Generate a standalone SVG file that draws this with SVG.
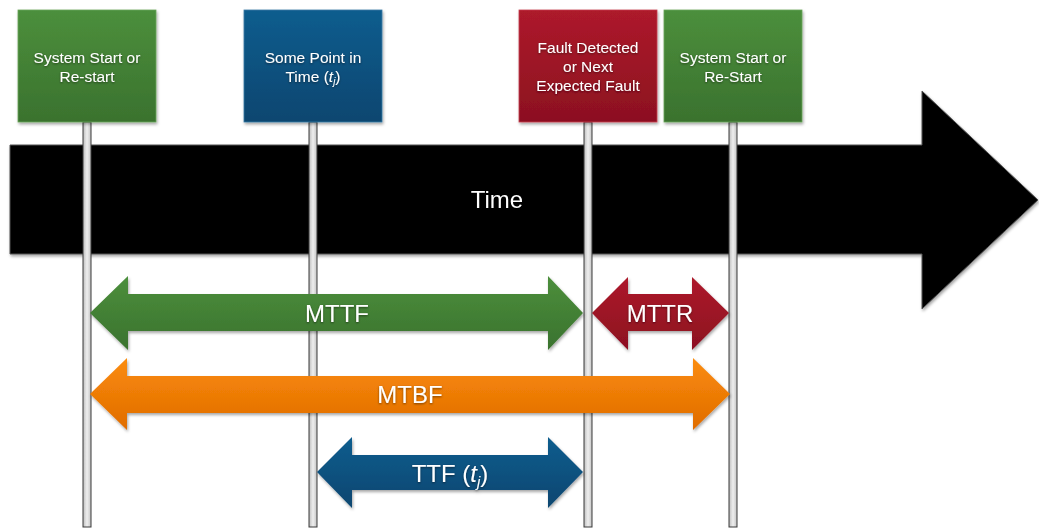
<svg xmlns="http://www.w3.org/2000/svg" width="1039" height="529" viewBox="0 0 1039 529">
<style>
  .lbl { font-family: "Liberation Sans", Arial, sans-serif; fill: #ffffff; text-anchor: middle; }
  .box { font-size: 15.5px; }
  .big { font-size: 24px; }
  .pole { fill: url(#poleG); stroke: #3a3a3a; stroke-width: 1; }
</style>
<defs>
  <linearGradient id="greenG" x1="0" y1="0" x2="0" y2="1">
    <stop offset="0" stop-color="#4c8f3c"/><stop offset="1" stop-color="#3a722e"/>
  </linearGradient>
  <linearGradient id="blueG" x1="0" y1="0" x2="0" y2="1">
    <stop offset="0" stop-color="#105d8e"/><stop offset="1" stop-color="#0b4670"/>
  </linearGradient>
  <linearGradient id="redG" x1="0" y1="0" x2="0" y2="1">
    <stop offset="0" stop-color="#ad1a2b"/><stop offset="1" stop-color="#8c1020"/>
  </linearGradient>
  <linearGradient id="orangeG" x1="0" y1="0" x2="0" y2="1">
    <stop offset="0" stop-color="#fb8c0c"/><stop offset="1" stop-color="#e06c00"/>
  </linearGradient>
  <linearGradient id="poleG" x1="0" y1="0" x2="1" y2="0">
    <stop offset="0" stop-color="#bdbdbd"/><stop offset="0.5" stop-color="#eeeeee"/><stop offset="1" stop-color="#c4c4c4"/>
  </linearGradient>
  <filter id="sh" x="-10%" y="-10%" width="130%" height="130%">
    <feDropShadow dx="1" dy="2" stdDeviation="1.5" flood-color="#000" flood-opacity="0.35"/>
  </filter>
  <filter id="tsh" x="-10%" y="-20%" width="120%" height="150%">
    <feDropShadow dx="0" dy="1" stdDeviation="1" flood-color="#000" flood-opacity="0.5"/>
  </filter>
</defs>

<g id="time-arrow" filter="url(#sh)">
  <polygon points="10,145 922,145 922,91 1038,200 922,309 922,254 10,254" fill="#000" stroke="#555" stroke-width="1"/>
  <text class="lbl big" x="497" y="208">Time</text>
</g>

<g id="connectors">
  <rect class="pole" x="83" y="122" width="8" height="405"/>
  <rect class="pole" x="309" y="122" width="8" height="405"/>
  <rect class="pole" x="584" y="122" width="8" height="405"/>
  <rect class="pole" x="729" y="122" width="8" height="405"/>
</g>

<g id="node-start" filter="url(#sh)">
  <rect x="18" y="10" width="138" height="112" fill="url(#greenG)" stroke="#6aa55a" stroke-width="0.8"/>
  <g filter="url(#tsh)">
    <text class="lbl box" x="87" y="63">System Start or</text>
    <text class="lbl box" x="87" y="82">Re-start</text>
  </g>
</g>

<g id="node-point" filter="url(#sh)">
  <rect x="244" y="10" width="138" height="112" fill="url(#blueG)" stroke="#3a7aa5" stroke-width="0.8"/>
  <g filter="url(#tsh)">
    <text class="lbl box" x="313" y="63">Some Point in</text>
    <text class="lbl box" x="313" y="82">Time (<tspan font-style="italic">t</tspan><tspan font-style="italic" font-size="10" dy="3">j</tspan><tspan dy="-3">)</tspan></text>
  </g>
</g>

<g id="node-fault" filter="url(#sh)">
  <rect x="519" y="10" width="138" height="112" fill="url(#redG)" stroke="#c54050" stroke-width="0.8"/>
  <g filter="url(#tsh)">
    <text class="lbl box" x="588" y="53">Fault Detected</text>
    <text class="lbl box" x="588" y="72">or Next</text>
    <text class="lbl box" x="588" y="91">Expected Fault</text>
  </g>
</g>

<g id="node-restart" filter="url(#sh)">
  <rect x="664" y="10" width="138" height="112" fill="url(#greenG)" stroke="#6aa55a" stroke-width="0.8"/>
  <g filter="url(#tsh)">
    <text class="lbl box" x="733" y="63">System Start or</text>
    <text class="lbl box" x="733" y="82">Re-Start</text>
  </g>
</g>

<g id="mttf" filter="url(#sh)">
  <polygon points="90,313 128,276 128,294 548,294 548,276 583,313 548,350 548,331 128,331 128,350" fill="url(#greenG)"/>
  <text class="lbl big" x="337" y="322" filter="url(#tsh)">MTTF</text>
</g>

<g id="mttr" filter="url(#sh)">
  <polygon points="592,313 628,277 628,294 692,294 692,277 729,313 692,350 692,331 628,331 628,350" fill="url(#redG)"/>
  <text class="lbl big" x="660" y="322" filter="url(#tsh)">MTTR</text>
</g>

<g id="mtbf" filter="url(#sh)">
  <polygon points="90,394 127,358 127,376 693,376 693,358 730,394 693,430 693,413 127,413 127,430" fill="url(#orangeG)"/>
  <text class="lbl big" x="410" y="403" filter="url(#tsh)">MTBF</text>
</g>

<g id="ttf" filter="url(#sh)">
  <polygon points="317,472 352,437 352,455 548,455 548,437 583,472 548,508 548,490 352,490 352,508" fill="url(#blueG)"/>
  <text class="lbl big" x="450" y="482" filter="url(#tsh)">TTF (<tspan font-style="italic">t</tspan><tspan font-style="italic" font-size="15" dy="5">j</tspan><tspan dy="-5">)</tspan></text>
</g>
</svg>
